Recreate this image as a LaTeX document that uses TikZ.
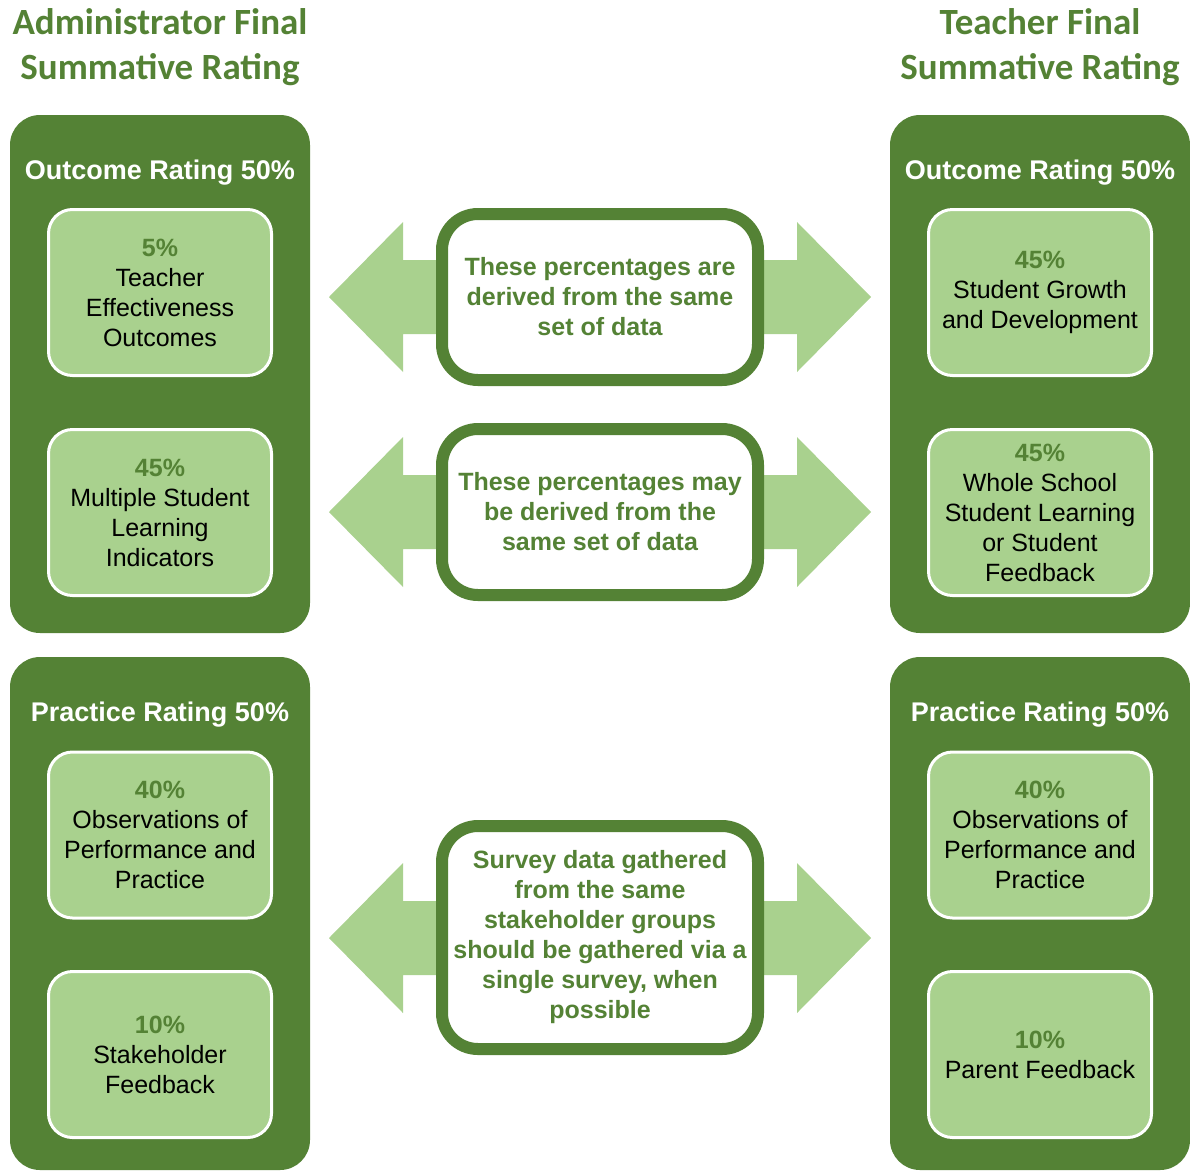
\documentclass[tikz,border=0pt]{standalone}
\usepackage{fontspec}
\setmainfont{Liberation Sans}
\newfontfamily\titlefont{Carlito}
\definecolor{dkgreen}{HTML}{548235}
\definecolor{ltgreen}{HTML}{A9D18E}

\begin{document}
\begin{tikzpicture}[x=1pt,y=-1pt,
  outer/.style={fill=dkgreen,rounded corners=30pt,minimum width=300pt,inner sep=0pt},
  inner/.style={draw=white,line width=3pt,fill=ltgreen,rounded corners=24pt,
    minimum width=223pt,minimum height=166pt,align=center,inner sep=0pt,
    font=\fontsize{25}{30}\selectfont},
  middle/.style={draw=dkgreen,line width=12pt,fill=white,rounded corners=36pt,
    minimum width=316pt,align=center,inner sep=0pt,text=dkgreen,
    font=\bfseries\fontsize{25}{30}\selectfont},
  head/.style={text=white,font=\bfseries\fontsize{27}{30}\selectfont},
  title/.style={text=dkgreen,align=center,font=\titlefont\bfseries\fontsize{37}{45}\selectfont},
  twoway/.style={fill=ltgreen}]
\useasboundingbox (0,0) rectangle (1190,1173);

% titles
\node[title](admin) at (160,47) {Administrator Final\\Summative Rating};
\node[title](teach) at (1040,47) {Teacher Final\\Summative Rating};

% outer boxes
\node[outer,minimum height=518pt](aout) at (160,374) {};
\node[outer,minimum height=513pt](aprac) at (160,913.5) {};
\node[outer,minimum height=518pt](tout) at (1040,374) {};
\node[outer,minimum height=513pt](tprac) at (1040,913.5) {};

\node[head](aouthead) at (160,173) {Outcome Rating 50\%};
\node[head](apracHead) at (160,715) {Practice Rating 50\%};
\node[head](touthead) at (1040,173) {Outcome Rating 50\%};
\node[head](tpracHead) at (1040,715) {Practice Rating 50\%};

% left inner boxes
\node[inner](a1) at (160,292.5) {\textcolor{dkgreen}{\textbf{5\%}}\\Teacher\\Effectiveness\\Outcomes};
\node[inner](a2) at (160,512.5) {\textcolor{dkgreen}{\textbf{45\%}}\\Multiple Student\\Learning\\Indicators};
\node[inner](a3) at (160,835) {\textcolor{dkgreen}{\textbf{40\%}}\\Observations of\\Performance and\\Practice};
\node[inner](a4) at (160,1054.5) {\textcolor{dkgreen}{\textbf{10\%}}\\Stakeholder\\Feedback};

% right inner boxes
\node[inner](t1) at (1040,292.5) {\textcolor{dkgreen}{\textbf{45\%}}\\Student Growth\\and Development};
\node[inner](t2) at (1040,512.5) {\textcolor{dkgreen}{\textbf{45\%}}\\Whole School\\Student Learning\\or Student\\Feedback};
\node[inner](t3) at (1040,835) {\textcolor{dkgreen}{\textbf{40\%}}\\Observations of\\Performance and\\Practice};
\node[inner](t4) at (1040,1054.5) {\textcolor{dkgreen}{\textbf{10\%}}\\Parent Feedback};

% two-way arrows
\fill[twoway] (329,297) -- (403,222) -- (403,260) -- (797,260) -- (797,222) -- (871,297)
  -- (797,372) -- (797,334) -- (403,334) -- (403,372) -- cycle;
\fill[twoway] (329,512) -- (403,437) -- (403,475) -- (797,475) -- (797,437) -- (871,512)
  -- (797,587) -- (797,549) -- (403,549) -- (403,587) -- cycle;
\fill[twoway] (329,938) -- (403,863) -- (403,901) -- (797,901) -- (797,863) -- (871,938)
  -- (797,1013) -- (797,975) -- (403,975) -- (403,1013) -- cycle;

% middle boxes
\node[middle,minimum height=166pt](m1) at (600,297) {These percentages are\\derived from the same\\set of data};
\node[middle,minimum height=166pt](m2) at (600,512) {These percentages may\\be derived from the\\same set of data};
\node[middle,minimum height=223pt](m3) at (600,937.5) {\vphantom{g}Survey data gathered\\from the same\\stakeholder groups\\should be gathered via a\\single survey, when\\possible};
\end{tikzpicture}
\end{document}
